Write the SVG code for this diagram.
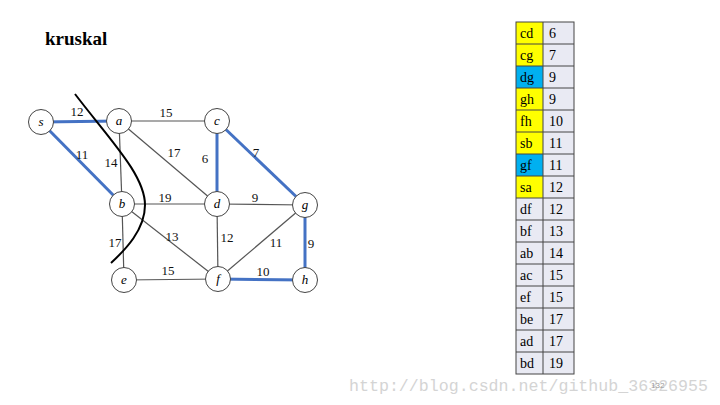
<svg xmlns="http://www.w3.org/2000/svg" width="720" height="405" viewBox="0 0 720 405">
<style>
.e{stroke:#555;stroke-width:1.2;fill:none}
.m{stroke:#4472C4;stroke-width:3;fill:none}
.n circle{fill:#fff;stroke:#444;stroke-width:1}
.n text{font-family:"Liberation Serif",serif;font-style:italic;font-size:13px;text-anchor:middle;fill:#000}
.w{font-family:"Liberation Serif",serif;font-size:13px;fill:#111;text-anchor:middle}
.t{font-family:"Liberation Serif",serif;font-size:14px;fill:#000}
.c{stroke:#444;stroke-width:1}
</style>
<rect width="720" height="405" fill="#fff"/>
<text x="45" y="45" font-family="Liberation Serif,serif" font-weight="bold" font-size="19">kruskal</text>
<g id="connectors">
<line class="m" x1="41" y1="122" x2="119" y2="121"/>
<line class="m" x1="41" y1="122" x2="122" y2="204"/>
<line class="e" x1="119" y1="121" x2="217" y2="121"/>
<line class="e" x1="119" y1="121" x2="122" y2="204"/>
<line class="e" x1="119" y1="121" x2="217" y2="204"/>
<line class="m" x1="217" y1="121" x2="217" y2="204"/>
<line class="m" x1="217" y1="121" x2="305" y2="205"/>
<line class="e" x1="122" y1="204" x2="217" y2="204"/>
<line class="e" x1="122" y1="204" x2="124" y2="280"/>
<line class="e" x1="122" y1="204" x2="218" y2="279"/>
<line class="e" x1="217" y1="204" x2="305" y2="205"/>
<line class="e" x1="217" y1="204" x2="218" y2="279"/>
<line class="e" x1="218" y1="279" x2="305" y2="205"/>
<line class="m" x1="305" y1="205" x2="305" y2="280"/>
<line class="e" x1="124" y1="280" x2="218" y2="279"/>
<line class="m" x1="218" y1="279" x2="305" y2="280"/>
<text class="w" x="77" y="116">12</text>
<text class="w" x="166" y="117">15</text>
<text class="w" x="174" y="157">17</text>
<text class="w" x="111" y="167">14</text>
<text class="w" x="82" y="159">11</text>
<text class="w" x="205" y="163">6</text>
<text class="w" x="256" y="157">7</text>
<text class="w" x="165" y="202">19</text>
<text class="w" x="255" y="202">9</text>
<text class="w" x="115" y="247">17</text>
<text class="w" x="172" y="241">13</text>
<text class="w" x="227" y="242">12</text>
<text class="w" x="276" y="247">11</text>
<text class="w" x="311" y="248">9</text>
<text class="w" x="168" y="275">15</text>
<text class="w" x="263" y="276">10</text>
</g>
<g id="node-s" class="n"><circle cx="41" cy="122" r="12.5"/><text x="41" y="126">s</text></g>
<g id="node-a" class="n"><circle cx="119" cy="121" r="12.5"/><text x="119" y="125">a</text></g>
<g id="node-c" class="n"><circle cx="217" cy="121" r="12.5"/><text x="217" y="125">c</text></g>
<g id="node-b" class="n"><circle cx="122" cy="204" r="12.5"/><text x="122" y="208">b</text></g>
<g id="node-d" class="n"><circle cx="217" cy="204" r="12.5"/><text x="217" y="208">d</text></g>
<g id="node-g" class="n"><circle cx="305" cy="205" r="12.5"/><text x="305" y="209">g</text></g>
<g id="node-e" class="n"><circle cx="124" cy="280" r="12.5"/><text x="124" y="284">e</text></g>
<g id="node-f" class="n"><circle cx="218" cy="279" r="12.5"/><text x="218" y="283">f</text></g>
<g id="node-h" class="n"><circle cx="305" cy="280" r="12.5"/><text x="305" y="284">h</text></g>
<path id="cut" d="M75,94 C110,140 145,175 145,205 C145,230 125,250 111,263" stroke="#000" stroke-width="2" fill="none"/>
<g id="table">
<rect x="516" y="22" width="27" height="176" fill="#FFFF00"/>
<rect x="516" y="66" width="27" height="22" fill="#00B0F0"/>
<rect x="516" y="154" width="27" height="22" fill="#00B0F0"/>
<rect x="516" y="198" width="27" height="176" fill="#E9EAF3"/>
<rect x="543" y="22" width="31" height="352" fill="#E9EAF3"/>
<rect x="516" y="22" width="58" height="352" fill="none" class="c"/>
<line class="c" x1="543" y1="22" x2="543" y2="374"/>
<g class="c">
<line x1="516" y1="44" x2="574" y2="44"/><line x1="516" y1="66" x2="574" y2="66"/>
<line x1="516" y1="88" x2="574" y2="88"/><line x1="516" y1="110" x2="574" y2="110"/>
<line x1="516" y1="132" x2="574" y2="132"/><line x1="516" y1="154" x2="574" y2="154"/>
<line x1="516" y1="176" x2="574" y2="176"/><line x1="516" y1="198" x2="574" y2="198"/>
<line x1="516" y1="220" x2="574" y2="220"/><line x1="516" y1="242" x2="574" y2="242"/>
<line x1="516" y1="264" x2="574" y2="264"/><line x1="516" y1="286" x2="574" y2="286"/>
<line x1="516" y1="308" x2="574" y2="308"/><line x1="516" y1="330" x2="574" y2="330"/>
<line x1="516" y1="352" x2="574" y2="352"/>
</g>
<g class="t">
<text x="520" y="38">cd</text><text x="549" y="38">6</text>
<text x="520" y="60">cg</text><text x="549" y="60">7</text>
<text x="520" y="82">dg</text><text x="549" y="82">9</text>
<text x="520" y="104">gh</text><text x="549" y="104">9</text>
<text x="520" y="126">fh</text><text x="549" y="126">10</text>
<text x="520" y="148">sb</text><text x="549" y="148">11</text>
<text x="520" y="170">gf</text><text x="549" y="170">11</text>
<text x="520" y="192">sa</text><text x="549" y="192">12</text>
<text x="520" y="214">df</text><text x="549" y="214">12</text>
<text x="520" y="236">bf</text><text x="549" y="236">13</text>
<text x="520" y="258">ab</text><text x="549" y="258">14</text>
<text x="520" y="280">ac</text><text x="549" y="280">15</text>
<text x="520" y="302">ef</text><text x="549" y="302">15</text>
<text x="520" y="324">be</text><text x="549" y="324">17</text>
<text x="520" y="346">ad</text><text x="549" y="346">17</text>
<text x="520" y="368">bd</text><text x="549" y="368">19</text>
</g>
</g>
<text x="349" y="391" font-family="Liberation Mono,monospace" font-size="17" fill="#d4d4d4" textLength="359" lengthAdjust="spacingAndGlyphs">http://blog.csdn.net/github_36326955</text>
<text x="651" y="388" font-family="Liberation Sans,sans-serif" font-size="8" fill="#999">132</text>
</svg>
